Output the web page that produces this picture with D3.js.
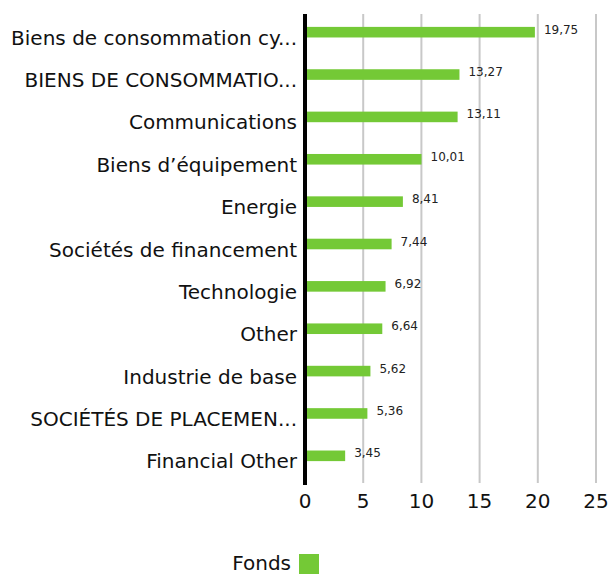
<!DOCTYPE html>
<html>
<head>
<meta charset="utf-8">
<script src="https://cdn.jsdelivr.net/npm/d3@7"></script>
<style>
  body { margin: 0; background: #fff; }
  svg { font-family: "DejaVu Sans", sans-serif; }
</style>
</head>
<body>
<div id="chart"></div>
<script>
// secteurs et poids du fonds
const categories = [
  "Biens de consommation cy...",
  "BIENS DE CONSOMMATIO...",
  "Communications",
  "Biens d\u2019équipement",
  "Energie",
  "Sociétés de financement",
  "Technologie",
  "Other",
  "Industrie de base",
  "SOCIÉTÉS DE PLACEMEN...",
  "Financial Other"
];
const values = [19.75, 13.27, 13.11, 10.01, 8.41, 7.44, 6.92, 6.64, 5.62, 5.36, 3.45];
const xTicks = [0, 5, 10, 15, 20, 25];
const seriesName = "Fonds";

const width = 608, height = 574;
const margin = { top: 11, left: 305, right: 12, bottom: 97 };
const green = "#74c936";

const svg = d3.select("#chart").append("svg")
  .attr("width", width)
  .attr("height", height);

const x = d3.scaleLinear().domain([0, 25]).range([margin.left, 596]);
const y = d3.scaleBand().domain(categories)
  .range([margin.top, height - margin.bottom])
  .paddingInner(0.75).paddingOuter(0.375);

const fmt = v => d3.format(".2f")(v).replace(".", ",");

// grille verticale
svg.append("g")
  .selectAll("line")
  .data(xTicks.slice(1))
  .join("line")
  .attr("x1", d => x(d)).attr("x2", d => x(d))
  .attr("y1", 14).attr("y2", 483)
  .attr("stroke", "#c8c8c8")
  .attr("stroke-width", 2);

// barres
svg.append("g")
  .selectAll("rect")
  .data(values)
  .join("rect")
  .attr("x", x(0))
  .attr("y", (d, i) => y(categories[i]))
  .attr("width", d => x(d) - x(0))
  .attr("height", y.bandwidth())
  .attr("fill", green);

// valeurs
svg.append("g")
  .selectAll("text")
  .data(values)
  .join("text")
  .attr("x", d => x(d) + 9)
  .attr("y", (d, i) => y(categories[i]) + y.bandwidth() / 2 - 2)
  .attr("dominant-baseline", "middle")
  .attr("font-size", "12px")
  .attr("fill", "#222")
  .text(d => fmt(d));

// libellés catégories
svg.append("g")
  .selectAll("text")
  .data(categories)
  .join("text")
  .attr("x", 297)
  .attr("y", d => y(d) + y.bandwidth() / 2 + 7)
  .attr("text-anchor", "end")
  .attr("dominant-baseline", "middle")
  .attr("font-size", "20px")
  .attr("fill", "#111")
  .text(d => d);

// axe zéro
svg.append("line")
  .attr("x1", x(0)).attr("x2", x(0))
  .attr("y1", 14).attr("y2", 485)
  .attr("stroke", "#000")
  .attr("stroke-width", 4);

// ticks X
svg.append("g")
  .selectAll("text")
  .data(xTicks)
  .join("text")
  .attr("x", d => x(d))
  .attr("y", 502)
  .attr("text-anchor", "middle")
  .attr("dominant-baseline", "middle")
  .attr("font-size", "20px")
  .attr("fill", "#111")
  .text(d => d);

// légende
const leg = svg.append("g");
leg.append("text")
  .attr("x", 291).attr("y", 564)
  .attr("text-anchor", "end")
  .attr("dominant-baseline", "middle")
  .attr("font-size", "20px")
  .attr("fill", "#111")
  .text(seriesName);
leg.append("rect")
  .attr("x", 299).attr("y", 554)
  .attr("width", 20).attr("height", 20)
  .attr("fill", green);
</script>
</body>
</html>
